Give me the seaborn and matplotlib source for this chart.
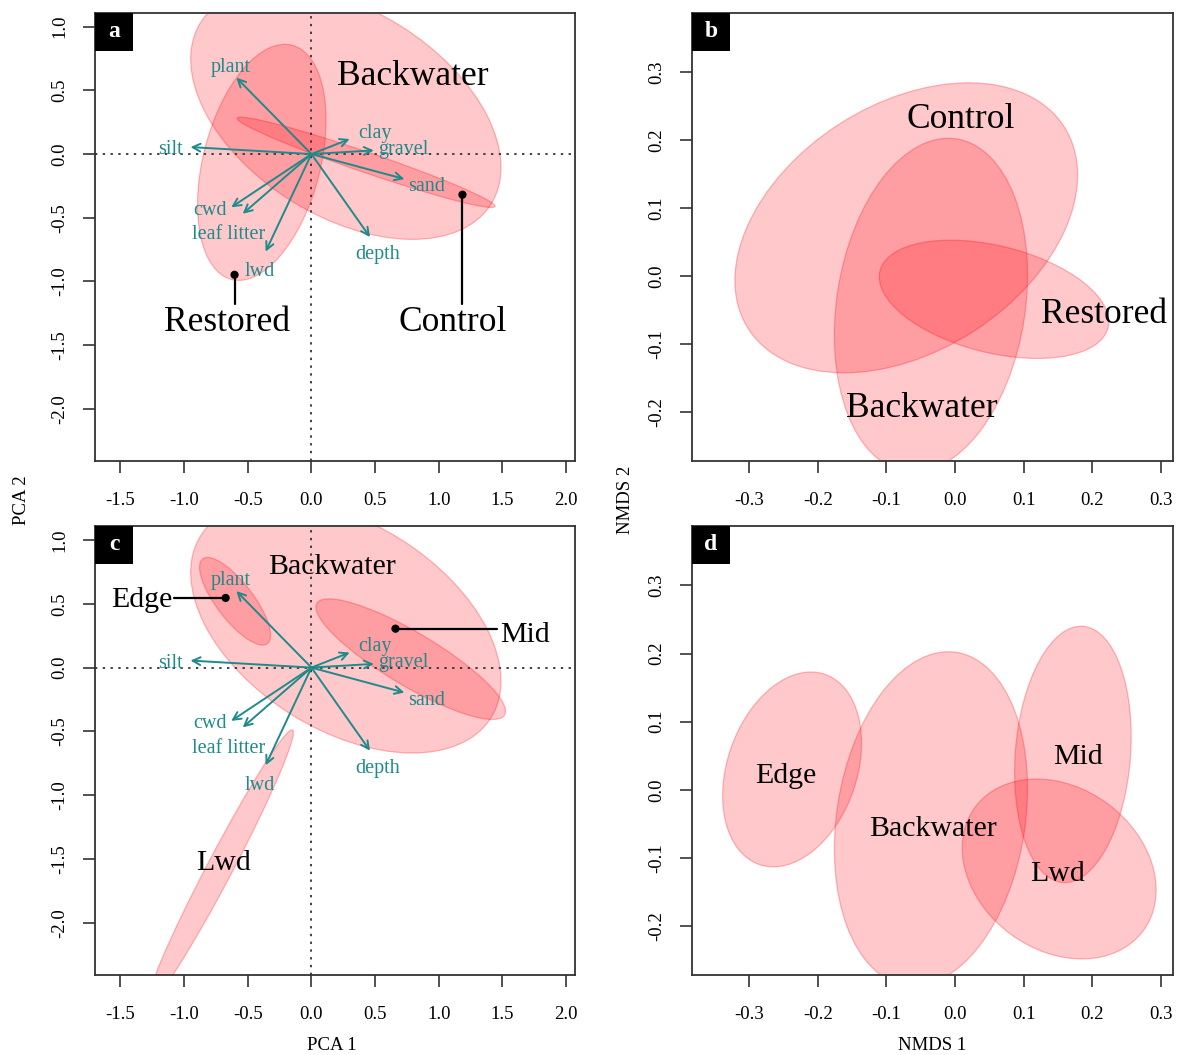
import numpy as np
import pandas as pd
import matplotlib
matplotlib.use('Agg')
import matplotlib.pyplot as plt
from matplotlib.patches import Ellipse, Rectangle
from matplotlib.transforms import offset_copy
import seaborn as sns

# ---- PCA loadings (environmental vectors), shared by panels a and c
var_names = ['plant', 'silt', 'clay', 'gravel', 'sand', 'depth', 'cwd', 'leaf litter', 'lwd']
load_x = [-0.59, -0.95, 0.30, 0.49, 0.73, 0.46, -0.63, -0.54, -0.36]
load_y = [0.60, 0.055, 0.118, 0.029, -0.196, -0.652, -0.418, -0.469, -0.766]
lab_x = [-0.635, -1.11, 0.50, 0.72, 0.905, 0.52, -0.80, -0.65, -0.41]
lab_y = [0.715, 0.065, 0.195, 0.07, -0.225, -0.76, -0.41, -0.60, -0.89]

# ---- panel a: PCA by site
a_groups = ['Backwater', 'Restored', 'Control']
a_cx = [0.27, -0.39, 0.43]
a_cy = [0.32, -0.065, -0.065]
a_w = [2.69, 1.90, 2.14]
a_h = [1.62, 0.92, 0.16]
a_ang = [-32.0, 75.5, -18.9]
a_lab_x = [0.80, -0.66, 1.11]
a_lab_y = [0.64, -1.29, -1.29]
a_pt_x = [-0.604, 1.186]
a_pt_y = [-0.948, -0.319]
a_lead_y = -1.18

# ---- panel b: NMDS by site
b_groups = ['Control', 'Backwater', 'Restored']
b_cx = [-0.071, -0.035, 0.057]
b_cy = [0.071, -0.0425, -0.034]
b_w = [0.548, 0.494, 0.343]
b_h = [0.362, 0.275, 0.157]
b_ang = [33.1, 81.4, -14.1]
b_lab_x = [0.008, -0.049, 0.218]
b_lab_y = [0.236, -0.188, -0.050]

# ---- panel c: PCA by zone
c_groups = ['Backwater', 'Edge', 'Mid', 'Lwd']
c_cx = [0.27, -0.60, 0.78, -0.713]
c_cy = [0.32, 0.52, 0.066, -1.56]
c_w = [2.69, 0.836, 1.714, 2.42]
c_h = [1.62, 0.29, 0.417, 0.20]
c_ang = [-32.0, -52.6, -30.7, 62.2]
c_pt_x = [-0.674, 0.66]
c_pt_y = [0.546, 0.305]
c_lead_x = [-1.083, 1.46]

# ---- panel d: NMDS by zone
d_groups = ['Edge', 'Backwater', 'Mid', 'Lwd']
d_cx = [-0.2375, -0.035, 0.172, 0.152]
d_cy = [0.03, -0.0425, 0.052, -0.116]
d_w = [0.295, 0.494, 0.377, 0.305]
d_h = [0.189, 0.275, 0.168, 0.238]
d_ang = [71.2, 81.4, 85.5, -36.7]
d_lab_x = [-0.247, -0.032, 0.18, 0.15]
d_lab_y = [0.026, -0.0515, 0.0535, -0.118]

pca_xticks = [-1.5, -1.0, -0.5, 0.0, 0.5, 1.0, 1.5, 2.0]
pca_yticks = [-2.0, -1.5, -1.0, -0.5, 0.0, 0.5, 1.0]
nmds_xticks = [-0.3, -0.2, -0.1, 0.0, 0.1, 0.2, 0.3]
nmds_yticks = [-0.2, -0.1, 0.0, 0.1, 0.2, 0.3]

sns.set_theme(style='white')
plt.rcParams['font.family'] = ['Liberation Serif', 'DejaVu Serif']
plt.rcParams['axes.unicode_minus'] = False
plt.rcParams['text.color'] = 'black'
plt.rcParams['xtick.labelcolor'] = 'black'
plt.rcParams['ytick.labelcolor'] = 'black'

TEAL = '#1f8a8a'
FILL = (1.0, 0.0, 0.05, 0.21)
EDGE = (1.0, 0.0, 0.05, 0.27)

W, H = 1177, 1055
fig = plt.figure(figsize=(W / 100, H / 100), dpi=100)


def px_axes(left, top, right, bottom):
    return fig.add_axes([left / W, 1 - bottom / H, (right - left) / W, (bottom - top) / H])


ax_a = px_axes(95, 12.7, 575, 461)
ax_b = px_axes(692, 12.7, 1173, 461)
ax_c = px_axes(95, 526, 575, 975)
ax_d = px_axes(692, 526, 1173, 975)


def txt(ax, x, y, s, **kw):
    # R centres text slightly lower than matplotlib's bbox centre
    tr = offset_copy(ax.transData, fig=fig, x=0, y=-4, units='dots')
    ax.text(x, y, s, transform=tr, **kw)


def style_axes(ax, xt, yt, xl, yl, letter):
    ax.set_xlim(*xl)
    ax.set_ylim(*yl)
    ax.set_xticks(xt)
    ax.set_yticks(yt)
    ax.set_xticklabels(['%.1f' % v for v in xt])
    ax.set_yticklabels(['%.1f' % v for v in yt], rotation=90, va='center')
    ax.tick_params(direction='out', length=8.5, width=1.1, color='#222222',
                   labelsize=13.5, labelcolor='black', bottom=True, left=True)
    ax.tick_params(axis='x', pad=14)
    ax.tick_params(axis='y', pad=11)
    for s in ax.spines.values():
        s.set_visible(True)
        s.set_color('#333333')
        s.set_linewidth(1.3)
    ax.grid(False)
    ax.set_xlabel('')
    ax.set_ylabel('')
    bw = 38 / (ax.bbox.width)
    bh = 38 / (ax.bbox.height)
    ax.add_patch(Rectangle((0, 1 - bh), bw, bh, transform=ax.transAxes,
                           facecolor='black', edgecolor='none', zorder=10, clip_on=False))
    ax.text(bw / 2, 1 - bh / 2, letter, transform=ax.transAxes, color='white',
            fontsize=17, fontweight='bold', ha='center', va='center', zorder=11)


def draw_ellipses(ax, cx, cy, w, h, ang):
    for x0, y0, ww, hh, aa in zip(cx, cy, w, h, ang):
        ax.add_patch(Ellipse((x0, y0), ww, hh, angle=aa, facecolor=FILL,
                             edgecolor=EDGE, linewidth=0.9, zorder=1))


def draw_vectors(ax):
    ax.axhline(0, color='#333333', lw=1.3, ls=(0, (1.3, 3)), zorder=2)
    ax.axvline(0, color='#333333', lw=1.3, ls=(0, (1.3, 3)), zorder=2)
    for name, x1, y1, tx, ty in zip(var_names, load_x, load_y, lab_x, lab_y):
        ax.annotate('', xy=(x1, y1), xytext=(0, 0),
                    arrowprops=dict(arrowstyle='->', color=TEAL, lw=1.4,
                                    mutation_scale=14, shrinkA=0, shrinkB=0),
                    zorder=3)
        txt(ax, tx, ty, name, color=TEAL, fontsize=14.5, ha='center', va='center', zorder=4)


pca_xl = (-1.70, 2.07)
pca_yl = (-2.41, 1.11)
nmds_xl = (-0.3835, 0.318)
nmds_yl = (-0.2715, 0.387)

# panel a
draw_ellipses(ax_a, a_cx, a_cy, a_w, a_h, a_ang)
draw_vectors(ax_a)
for px, py in zip(a_pt_x, a_pt_y):
    ax_a.plot([px, px], [py, a_lead_y], color='black', lw=1.6, zorder=5)
sns.scatterplot(x=a_pt_x, y=a_pt_y, ax=ax_a, color='black', s=35, edgecolor='none', zorder=6)
for g, tx, ty in zip(a_groups, a_lab_x, a_lab_y):
    txt(ax_a, tx, ty, g, fontsize=25.5, ha='center', va='center', color='black', zorder=7)
style_axes(ax_a, pca_xticks, pca_yticks, pca_xl, pca_yl, 'a')

# panel b
draw_ellipses(ax_b, b_cx, b_cy, b_w, b_h, b_ang)
for g, tx, ty in zip(b_groups, b_lab_x, b_lab_y):
    txt(ax_b, tx, ty, g, fontsize=25.5, ha='center', va='center', color='black', zorder=7)
style_axes(ax_b, nmds_xticks, nmds_yticks, nmds_xl, nmds_yl, 'b')

# panel c
draw_ellipses(ax_c, c_cx, c_cy, c_w, c_h, c_ang)
draw_vectors(ax_c)
for px, py, lx in zip(c_pt_x, c_pt_y, c_lead_x):
    ax_c.plot([px, lx], [py, py], color='black', lw=1.6, zorder=5)
sns.scatterplot(x=c_pt_x, y=c_pt_y, ax=ax_c, color='black', s=35, edgecolor='none', zorder=6)
txt(ax_c, 0.16, 0.82, 'Backwater', fontsize=21.5, ha='center', va='center', color='black', zorder=7)
txt(ax_c, c_lead_x[0] - 0.01, 0.565, 'Edge', fontsize=21.5, ha='right', va='center', color='black', zorder=7)
txt(ax_c, c_lead_x[1] + 0.02, 0.29, 'Mid', fontsize=21.5, ha='left', va='center', color='black', zorder=7)
txt(ax_c, -0.69, -1.50, 'Lwd', fontsize=21.5, ha='center', va='center', color='black', zorder=7)
style_axes(ax_c, pca_xticks, pca_yticks, pca_xl, pca_yl, 'c')

# panel d
draw_ellipses(ax_d, d_cx, d_cy, d_w, d_h, d_ang)
for g, tx, ty in zip(d_groups, d_lab_x, d_lab_y):
    txt(ax_d, tx, ty, g, fontsize=21.5, ha='center', va='center', color='black', zorder=7)
style_axes(ax_d, nmds_xticks, nmds_yticks, nmds_xl, nmds_yl, 'd')

fig.text(21 / W, 1 - 500 / H, 'PCA 2', rotation=90, ha='center', va='center', fontsize=13.5, color='black')
fig.text(625 / W, 1 - 500 / H, 'NMDS 2', rotation=90, ha='center', va='center', fontsize=13.5, color='black')
fig.text(332 / W, 1 - 1045 / H, 'PCA 1', ha='center', va='center', fontsize=13.5, color='black')
fig.text(932 / W, 1 - 1045 / H, 'NMDS 1', ha='center', va='center', fontsize=13.5, color='black')

fig.savefig('out.png', dpi=100)
